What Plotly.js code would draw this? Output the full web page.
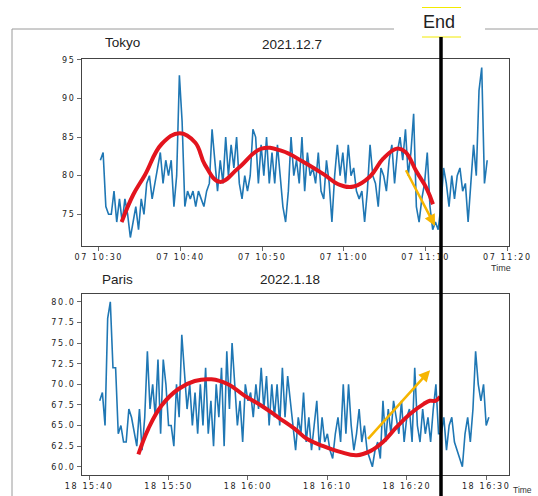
<!DOCTYPE html>
<html>
<head>
<meta charset="utf-8">
<script src="https://cdn.plot.ly/plotly-3.0.1.min.js"></script>
<style>
  html, body { margin: 0; padding: 0; background: #fff; }
  #chart { width: 538px; height: 496px; }
  g.xtick text, g.x2tick text, g.ytick text, g.y2tick text { letter-spacing: 1.6px; }
</style>
</head>
<body>
<div id="chart"></div>
<script>
// ---------------- data ----------------
const tokyoDay = '2021-12-07';
const tokyoStart = '10:30:12';
const tokyoStepSec = 20;
const tokyoValues = [
  82,83,76, 75,75,78, 74,77,74, 77,75,72, 74,76,73, 77,75,79, 80,77,79, 81,83,79, 82,80,82, 76,80,93,
  87,76,78, 77,78,76, 78,77,76, 78,79,86, 82,78,82, 79,85,80, 84,81,85, 79,77,80, 78,80,86, 85,79,84,
  80,85,79, 83,79,84, 80,76,74, 78,85,80, 82,79,85, 78,83,80, 81,79,83, 78,77,82, 79,74,80, 84,80,83,
  79,84,80, 81,78,77, 78,74,78, 84,80,79, 76,81,80, 78,82,84, 79,83,85, 82,86,80, 83,88,76, 74,77,79,
  83,76,73, 74,73,76, 81,79,76, 80,77,80, 81,78,79, 74,79,84, 80,91,94, 79,82
];
const tokyoTrendTimes = ['10:32:48','10:34:12','10:35:39','10:37:42','10:39:54','10:41:48','10:43:00','10:44:48',
  '10:47:06','10:49:54','10:52:24','10:55:00','10:57:30','10:59:30','11:01:12','11:03:12','11:04:48','11:06:30',
  '11:07:30','11:08:54','11:10:06','11:10:54'];
const tokyoTrendValues = [74.0,77.5,80.1,84.1,85.5,84.3,81.4,79.2,81.0,83.5,83.2,81.8,80.2,78.8,78.6,79.9,82.2,83.5,83.1,80.5,78.4,76.3];
const tokyoArrowFrom = ['11:07:30', 80.9];
const tokyoArrowTo = ['11:11:09', 73.5];

const parisDay = '2022-01-18';
const parisStart = '15:41:20';
const parisStepSec = 20;
const parisValues = [
  68,69,65, 78,80,72, 72,64,65, 63,63,67, 66,64,62.5, 67,62,66, 74,67,70, 66,73,64, 73,70,65, 65,62.5,70,
  66,76,71, 67,70,65, 69,64,70, 65,72,64, 68,62.5,70, 66,72,62.5, 74,67,75, 70,65,68, 63,70,68, 69,66,70,
  67,72,67, 71,65,70, 66,70,65, 72,66,71, 68,65,62, 66,64,69, 63,66,62, 65,68,62, 66,63,64, 62,61,64,
  66,63,70, 64,70,65, 62,64,67, 63,65,62, 61,60,62, 63,61,68, 63,67,64, 68,66,64, 68,63,66, 67,63,72,
  65,63,67, 64,66,63, 67,70,64, 64,66,62, 65,66,63, 62,61,60, 64,66,63, 67,74,70, 68,70,65, 66
];
const parisTrendTimes = ['15:46:12','15:47:27','15:49:06','15:51:12','15:53:18','15:55:24','15:57:30','15:59:36',
  '16:01:42','16:03:48','16:05:54','16:07:24','16:09:30','16:11:36','16:13:42','16:15:24','16:17:00','16:18:42',
  '16:20:24','16:22:06','16:22:54','16:23:36','16:24:12'];
const parisTrendValues = [61.5,64.6,67.4,69.4,70.4,70.6,70.0,68.6,67.4,66.0,64.6,63.4,62.5,61.8,61.4,61.9,63.0,64.8,66.4,67.6,68.0,68.0,68.5];
const parisArrowFrom = ['16:14:57', 63.2];
const parisArrowTo = ['16:22:56', 71.7];

const tokyoYTicks = [75, 80, 85, 90, 95];
const parisYTicks = [60, 62.5, 65, 67.5, 70, 72.5, 75, 77.5, 80];

// ---------------- helpers ----------------
const W = 538, H = 496;
const px = v => v / W;
const py = v => 1 - v / H;
const pad = n => String(n).padStart(2, '0');
function sampleTimes(day, start, step, n) {
  const [h, m, s] = start.split(':').map(Number);
  const base = h * 3600 + m * 60 + s;
  const out = [];
  for (let i = 0; i < n; i++) {
    const t = base + i * step;
    out.push(day + ' ' + pad(Math.floor(t / 3600)) + ':' + pad(Math.floor((t % 3600) / 60)) + ':' + pad(t % 60));
  }
  return out;
}
const withDay = (day, arr) => arr.map(t => day + ' ' + t);

const tokyoTimes = sampleTimes(tokyoDay, tokyoStart, tokyoStepSec, tokyoValues.length);
const parisTimes = sampleTimes(parisDay, parisStart, parisStepSec, parisValues.length);

const BLUE = '#1f77b4', RED = '#e3141e', YEL = '#f6b500';

const traces = [
  { x: tokyoTimes, y: tokyoValues, type: 'scatter', mode: 'lines', line: { color: BLUE, width: 1.6 }, xaxis: 'x', yaxis: 'y', hoverinfo: 'skip' },
  { x: withDay(tokyoDay, tokyoTrendTimes), y: tokyoTrendValues, type: 'scatter', mode: 'lines', line: { color: RED, width: 4, shape: 'spline', smoothing: 1.2 }, xaxis: 'x', yaxis: 'y', hoverinfo: 'skip' },
  { x: parisTimes, y: parisValues, type: 'scatter', mode: 'lines', line: { color: BLUE, width: 1.6 }, xaxis: 'x2', yaxis: 'y2', hoverinfo: 'skip' },
  { x: withDay(parisDay, parisTrendTimes), y: parisTrendValues, type: 'scatter', mode: 'lines', line: { color: RED, width: 4, shape: 'spline', smoothing: 1.2 }, xaxis: 'x2', yaxis: 'y2', hoverinfo: 'skip' }
];

const tickFont = { family: 'DejaVu Sans, sans-serif', size: 8, color: '#222' };
const axisCommon = {
  showline: true, mirror: true, linecolor: '#444', linewidth: 1,
  showgrid: false, zeroline: false, ticks: 'outside', ticklen: 3.5, tickwidth: 0.8, tickcolor: '#444',
  tickfont: tickFont
};
const xDom = [px(81.6), px(508.7)];

const layout = {
  width: W, height: H,
  margin: { l: 0, r: 0, t: 0, b: 0 },
  paper_bgcolor: '#fff', plot_bgcolor: '#fff',
  showlegend: false,
  xaxis: Object.assign({}, axisCommon, {
    domain: xDom, anchor: 'y', type: 'date',
    range: [tokyoDay + ' 10:27:54', tokyoDay + ' 11:20:10'],
    tick0: tokyoDay + ' 10:30:00', dtick: 600000, tickformat: '%d %H:%M'
  }),
  yaxis: Object.assign({}, axisCommon, {
    domain: [py(246), py(59)], anchor: 'x',
    range: [70.9, 95.1], tickvals: tokyoYTicks, ticktext: tokyoYTicks.map(String)
  }),
  xaxis2: Object.assign({}, axisCommon, {
    domain: xDom, anchor: 'y2', type: 'date',
    range: [parisDay + ' 15:39:03', parisDay + ' 16:32:50'],
    tick0: parisDay + ' 15:40:00', dtick: 600000, tickformat: '%d %H:%M'
  }),
  yaxis2: Object.assign({}, axisCommon, {
    domain: [py(475), py(293.6)], anchor: 'x2',
    range: [59, 81], tickvals: parisYTicks, ticktext: parisYTicks.map(v => v.toFixed(1))
  }),
  shapes: [
    { type: 'line', xref: 'paper', yref: 'paper', x0: px(12), x1: px(394), y0: py(29), y1: py(29), line: { color: '#9a9a9a', width: 1 } },
    { type: 'line', xref: 'paper', yref: 'paper', x0: px(485), x1: px(538), y0: py(29), y1: py(29), line: { color: '#9a9a9a', width: 1 } },
    { type: 'line', xref: 'paper', yref: 'paper', x0: px(12), x1: px(12), y0: py(29), y1: py(496), line: { color: '#9a9a9a', width: 1 } },
    { type: 'line', xref: 'paper', yref: 'paper', x0: px(422), x1: px(461), y0: py(7.5), y1: py(7.5), line: { color: '#f2ea00', width: 1 } },
    { type: 'line', xref: 'paper', yref: 'paper', x0: px(422), x1: px(461), y0: py(37), y1: py(37), line: { color: '#f2ea00', width: 1 } },
    { type: 'line', xref: 'paper', yref: 'paper', layer: 'above', x0: px(441), x1: px(441), y0: py(37), y1: py(496), line: { color: '#000', width: 3.5 } }
  ],
  annotations: [
    { text: 'Tokyo', xref: 'paper', yref: 'paper', x: px(123), y: py(43), showarrow: false, xanchor: 'center', yanchor: 'middle', font: { family: 'Liberation Sans, Arial, sans-serif', size: 13.5, color: '#222' } },
    { text: '2021.12.7', xref: 'paper', yref: 'paper', x: px(292), y: py(45), showarrow: false, xanchor: 'center', yanchor: 'middle', font: { family: 'Liberation Sans, Arial, sans-serif', size: 13.5, color: '#222' } },
    { text: 'Paris', xref: 'paper', yref: 'paper', x: px(117.5), y: py(279), showarrow: false, xanchor: 'center', yanchor: 'middle', font: { family: 'Liberation Sans, Arial, sans-serif', size: 13.5, color: '#222' } },
    { text: '2022.1.18', xref: 'paper', yref: 'paper', x: px(290), y: py(279), showarrow: false, xanchor: 'center', yanchor: 'middle', font: { family: 'Liberation Sans, Arial, sans-serif', size: 13.5, color: '#222' } },
    { text: 'End', xref: 'paper', yref: 'paper', x: px(439), y: py(22), showarrow: false, xanchor: 'center', yanchor: 'middle', font: { family: 'Liberation Sans, Arial, sans-serif', size: 18, color: '#222' } },
    { text: 'Time', xref: 'paper', yref: 'paper', x: px(501), y: py(267.5), showarrow: false, xanchor: 'center', yanchor: 'middle', borderpad: 0, font: { family: 'Liberation Sans, Arial, sans-serif', size: 9, color: '#333' } },
    { text: 'Time', xref: 'paper', yref: 'paper', x: px(512), y: 0, showarrow: false, xanchor: 'left', yanchor: 'bottom', borderpad: 0, font: { family: 'Liberation Sans, Arial, sans-serif', size: 8.5, color: '#333' } },
    { xref: 'x', yref: 'y', axref: 'x', ayref: 'y',
      x: tokyoDay + ' ' + tokyoArrowTo[0], y: tokyoArrowTo[1],
      ax: tokyoDay + ' ' + tokyoArrowFrom[0], ay: tokyoArrowFrom[1],
      text: '', showarrow: true, arrowhead: 2, arrowsize: 0.9, arrowwidth: 2.5, arrowcolor: YEL },
    { xref: 'x2', yref: 'y2', axref: 'x2', ayref: 'y2',
      x: parisDay + ' ' + parisArrowTo[0], y: parisArrowTo[1],
      ax: parisDay + ' ' + parisArrowFrom[0], ay: parisArrowFrom[1],
      text: '', showarrow: true, arrowhead: 2, arrowsize: 0.9, arrowwidth: 2.5, arrowcolor: YEL }
  ]
};

Plotly.newPlot('chart', traces, layout, { staticPlot: true, displayModeBar: false });
</script>
</body>
</html>
